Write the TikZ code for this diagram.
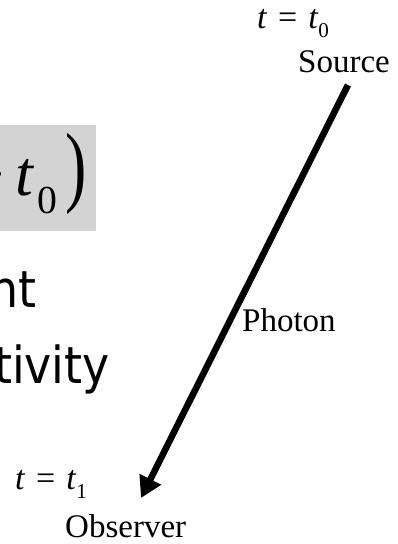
\documentclass[tikz,border=0pt]{standalone}
\usepackage{fontspec}
\setmainfont{Liberation Serif}
\newfontfamily\slidefont{DejaVu Sans Condensed}
\usepackage{graphicx}
\usetikzlibrary{arrows.meta, positioning}

\definecolor{eqgray}{RGB}{211,211,211}
\newcommand\tsub[1]{\raisebox{-0.29em}{\scalebox{0.62}{#1}}}
\newcommand\teq{\hspace{0.07em}=\hspace{0.07em}}

\begin{document}
\begin{tikzpicture}[
  x=1pt, y=-1pt,
  lbl/.style={inner sep=0pt, font=\fontsize{33}{33}\selectfont},
  tlbl/.style={inner sep=0pt, font=\fontsize{34}{34}\selectfont},
  slide/.style={inner sep=0pt, font=\slidefont\fontsize{51}{51}\selectfont},
  eqtxt/.style={inner sep=0pt, font=\fontsize{64}{64}\selectfont},
  eqbox/.style={rectangle, fill=eqgray, inner sep=0pt, anchor=north west,
                minimum width=96pt, minimum height=106pt},
  photon/.style={-{Triangle[length=21pt, width=23pt]}, line width=6.5pt},
]

\useasboundingbox (0,0) rectangle (397,544);
\fill[white] (0,0) rectangle (397,544);

%% ════════════════════════════════════════════════
%% SLIDE TEXT (cut at the left edge)
%% ════════════════════════════════════════════════

\node[eqbox] (eqbg) at (0,125) {};

\begin{scope}
  \clip (eqbg.north west) rectangle (eqbg.south east);
  \node[eqtxt, anchor=base east] (eqminus) at (5,195) {−};
  \node[eqtxt, anchor=base west] (eqt) at (15,195) {\textit{t}\kern3pt\tsub{0}};
  \node[eqtxt, anchor=base west] (eqparen) at (65,195) {\scalebox{1}[1.4]{)}};
\end{scope}

\node[slide, anchor=base east] (ntline) at (37,307) {nt};
\node[slide, anchor=base east] (tivline) at (110,383) {tivity};

%% ════════════════════════════════════════════════
%% SOURCE / OBSERVER
%% ════════════════════════════════════════════════

\node[tlbl, anchor=base west] (tzero) at (257,28) {\textit{t} \teq{} \textit{t}\tsub{0}};
\node[lbl, anchor=base west] (source) at (298,72) {Source};

\node[tlbl, anchor=base west] (tone) at (15,489) {\textit{t} \teq{} \textit{t}\tsub{1}};
\node[lbl, anchor=base west] (observer) at (65,537) {Observer};

%% photon path
\coordinate (srcend) at (348,85);
\coordinate (obsend) at (141,498);
\draw[photon] (srcend) -- (obsend);

\node[lbl, anchor=base west] (photonlbl) at (242,331) {Photon};

\end{tikzpicture}
\end{document}
